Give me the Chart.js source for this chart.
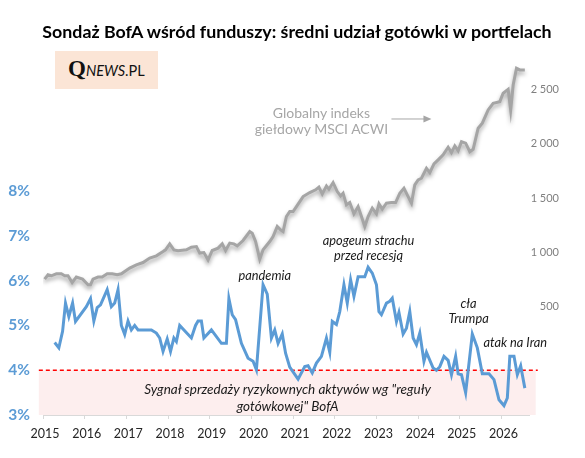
<!DOCTYPE html>
<html><head><meta charset="utf-8">
<script src="https://cdn.jsdelivr.net/npm/chart.js@4.4.1/dist/chart.umd.min.js"></script>
<style>
html,body{margin:0;padding:0;background:#fff;}
#wrap{position:relative;width:585px;height:458px;overflow:hidden;font-family:Lato,"Noto Sans",sans-serif;}
canvas{position:absolute;left:0;top:0;}
#title{position:absolute;left:0;width:594px;top:20px;text-align:center;font-weight:bold;font-size:17.8px;color:#000;white-space:nowrap;}
#logo{position:absolute;left:55px;top:51px;width:103px;height:38px;background:#FBE5D6;}
#logo span.l{position:absolute;left:13px;top:5px;white-space:nowrap;color:#111;}
.q{font-family:"Liberation Serif",serif;font-weight:bold;font-size:23px;}
.n{font-style:italic;font-size:14.5px;}
.p{font-size:14.5px;}
.ann{position:absolute;transform:translate(-50%,-50%);white-space:nowrap;text-align:center;font-style:italic;font-size:12.8px;color:#1a1a1a;line-height:15px;}
.gidx{font-style:normal;color:#a6a6a6;font-size:14px;line-height:16px;}
</style></head>
<body>
<div id="wrap">
<canvas id="c" width="585" height="458"></canvas>
<div id="title">Sondaż BofA wśród funduszy: średni udział gotówki w portfelach</div>
<div id="logo"><span class="l"><span class="q">Q</span><span class="n">NEWS</span><span class="p">.PL</span></span></div>
</div>
<script>
// ---- data ----
const cashYears = [2015.28,2015.38,2015.47,2015.54,2015.62,2015.71,2015.78,2016.04,2016.14,2016.22,2016.30,2016.38,2016.54,2016.64,2016.72,2016.80,2016.88,2016.96,2017.04,2017.12,2017.20,2017.28,2017.60,2017.72,2017.80,2017.88,2017.98,2018.06,2018.14,2018.20,2018.28,2018.56,2018.66,2018.72,2018.80,2018.86,2019.04,2019.28,2019.40,2019.46,2019.54,2019.62,2019.76,2019.92,2020.04,2020.12,2020.28,2020.38,2020.48,2020.56,2020.64,2020.74,2020.82,2020.92,2021.12,2021.28,2021.36,2021.46,2021.56,2021.68,2021.80,2021.88,2021.94,2022.04,2022.12,2022.22,2022.30,2022.38,2022.46,2022.56,2022.72,2022.80,2022.90,2023.00,2023.06,2023.12,2023.24,2023.32,2023.38,2023.48,2023.54,2023.64,2023.72,2023.80,2023.88,2023.96,2024.04,2024.14,2024.20,2024.36,2024.44,2024.52,2024.62,2024.72,2024.80,2024.90,2024.96,2025.04,2025.14,2025.30,2025.42,2025.54,2025.70,2025.82,2025.94,2026.06,2026.14,2026.20,2026.30,2026.38,2026.46,2026.56];
const cashPct = [4.62,4.50,4.87,5.50,5.20,5.50,5.09,5.42,5.60,5.10,5.40,5.46,5.80,5.42,5.50,5.80,5.00,4.80,5.10,4.90,5.00,4.90,4.90,4.83,4.72,4.42,4.70,4.42,4.72,4.64,5.00,4.72,5.00,5.10,5.10,4.72,4.90,4.60,4.60,5.60,5.24,5.13,4.60,4.27,4.20,4.01,5.91,5.70,4.72,4.90,4.60,4.81,4.38,4.07,3.80,4.08,4.10,3.94,4.16,4.31,4.72,4.40,5.09,5.02,5.31,5.91,5.50,6.02,5.65,6.09,6.09,6.30,6.17,5.91,5.31,5.24,5.50,5.54,5.61,5.09,5.29,4.81,4.94,5.31,4.72,4.57,4.83,4.20,4.40,4.05,4.00,4.08,4.31,4.22,3.90,4.31,3.92,3.90,3.50,4.81,4.50,3.92,3.92,3.79,3.34,3.21,3.38,4.31,4.31,3.90,4.10,3.60];

const acwiYears = [2015.04,2015.12,2015.20,2015.32,2015.44,2015.52,2015.60,2015.70,2015.80,2015.95,2016.08,2016.14,2016.20,2016.32,2016.42,2016.54,2016.66,2016.78,2016.88,2017.08,2017.24,2017.40,2017.56,2017.72,2017.88,2017.94,2018.04,2018.14,2018.24,2018.44,2018.56,2018.68,2018.76,2018.86,2018.96,2019.06,2019.20,2019.30,2019.38,2019.48,2019.58,2019.66,2019.80,2019.96,2020.02,2020.10,2020.20,2020.28,2020.44,2020.52,2020.62,2020.70,2020.76,2020.84,2020.92,2021.00,2021.08,2021.24,2021.40,2021.54,2021.62,2021.70,2021.80,2021.86,2021.96,2022.06,2022.14,2022.20,2022.28,2022.36,2022.46,2022.56,2022.64,2022.72,2022.80,2022.90,2023.00,2023.06,2023.14,2023.24,2023.36,2023.46,2023.56,2023.66,2023.76,2023.84,2023.92,2024.00,2024.08,2024.20,2024.28,2024.38,2024.48,2024.60,2024.72,2024.80,2024.88,2024.96,2025.04,2025.14,2025.24,2025.32,2025.44,2025.54,2025.68,2025.80,2025.96,2026.04,2026.16,2026.22,2026.28,2026.36,2026.44,2026.56];
const acwiValues = [752,792,783,801,801,783,783,721,771,752,700,700,752,771,771,801,801,792,801,854,884,905,946,967,1006,1022,1077,1022,1013,1022,1047,1052,992,997,930,1016,1038,1077,1016,1084,1077,1059,1108,1191,1176,1099,936,1022,1099,1145,1237,1206,1191,1329,1375,1375,1421,1513,1550,1575,1600,1538,1611,1581,1642,1559,1519,1544,1437,1458,1354,1421,1329,1237,1329,1406,1354,1446,1397,1452,1458,1458,1544,1590,1513,1452,1621,1667,1682,1774,1734,1814,1851,1897,1968,1918,1980,1936,2019,2005,1927,1949,2143,2189,2311,2373,2388,2465,2502,2311,2541,2695,2680,2680];

const xTickYears = [2015,2016,2017,2018,2019,2020,2021,2022,2023,2024,2025,2026];
const leftTicks = [3,4,5,6,7,8];
const rightTicks = [500,1000,1500,2000,2500];
const signalLevel = 4;

const annotations = [
  {html:'pandemia', x:2020.32, y:6.13, axis:'yL'},
  {html:'apogeum strachu<br>przed recesją', x:2022.81, y:6.72, axis:'yL'},
  {html:'cła<br>Trumpa', x:2025.21, y:5.33, axis:'yL'},
  {html:'atak na Iran', x:2026.33, y:4.64, axis:'yL'},
  {html:'Sygnał sprzedaży ryzykownych aktywów wg "reguły<br>gotówkowej" BofA', x:2020.87, y:3.38, axis:'yL', size:13.5, lh:17},
  {html:'Globalny indeks<br>giełdowy MSCI ACWI', x:2021.68, y:2208, axis:'yR', cls:'gidx'}
];

const wrap = document.getElementById('wrap');
const annEls = annotations.map(a => {
  const d = document.createElement('div');
  d.className = 'ann' + (a.cls ? ' ' + a.cls : '');
  d.innerHTML = a.html;
  if (a.size) d.style.fontSize = a.size + 'px';
  if (a.lh) d.style.lineHeight = a.lh + 'px';
  wrap.appendChild(d);
  return d;
});

const bandPlugin = {
  id: 'band',
  beforeDatasetsDraw(chart) {
    const {ctx, scales} = chart;
    const x = scales.x, y = scales.yL, r = scales.yR;
    const x0 = x.getPixelForValue(2014.9), x1 = x.getPixelForValue(2026.82);
    const yTop = y.getPixelForValue(signalLevel), yBot = y.getPixelForValue(3);
    ctx.save();
    ctx.fillStyle = '#FDEEEE';
    ctx.fillRect(x0, yTop, x1 - x0, yBot - yTop);
    ctx.strokeStyle = '#FF0000';
    ctx.lineWidth = 1.3;
    ctx.setLineDash([4, 3]);
    ctx.beginPath();
    ctx.moveTo(x0, yTop);
    ctx.lineTo(x.getPixelForValue(2026.87), yTop);
    ctx.stroke();
    ctx.setLineDash([]);
    // arrow next to the index label
    const ay = r.getPixelForValue(2228);
    const ax0 = x.getPixelForValue(2023.36), ax1 = x.getPixelForValue(2024.32);
    ctx.strokeStyle = '#a6a6a6';
    ctx.fillStyle = '#a6a6a6';
    ctx.lineWidth = 1;
    ctx.beginPath();
    ctx.moveTo(ax0, ay); ctx.lineTo(ax1 - 6, ay); ctx.stroke();
    ctx.beginPath();
    ctx.moveTo(ax1, ay); ctx.lineTo(ax1 - 8, ay - 3.5); ctx.lineTo(ax1 - 8, ay + 3.5); ctx.closePath(); ctx.fill();
    ctx.restore();
  },
  beforeDatasetDraw(chart, args) {
    if (args.index === 0) {
      const ctx = chart.ctx;
      ctx.save();
      ctx.shadowColor = 'rgba(0,0,0,0.35)';
      ctx.shadowBlur = 4;
      ctx.shadowOffsetY = 3;
    }
  },
  afterDatasetDraw(chart, args) {
    if (args.index === 0) chart.ctx.restore();
  },
  afterRender(chart) {
    annotations.forEach((a, i) => {
      const px = chart.scales.x.getPixelForValue(a.x);
      const py = chart.scales[a.axis].getPixelForValue(a.y);
      annEls[i].style.left = px + 'px';
      annEls[i].style.top = py + 'px';
    });
  }
};

const fmtThousands = v => v >= 1000 ? Math.floor(v / 1000) + ' ' + String(v % 1000).padStart(3, '0') : String(v);

new Chart(document.getElementById('c'), {
  type: 'line',
  data: {
    datasets: [
      {
        label: 'MSCI ACWI',
        data: acwiYears.map((x, i) => ({x, y: acwiValues[i]})),
        yAxisID: 'yR',
        borderColor: '#A5A5A5',
        borderWidth: 3,
        pointRadius: 0,
        tension: 0,
        fill: false
      },
      {
        label: 'Gotówka',
        data: cashYears.map((x, i) => ({x, y: cashPct[i]})),
        yAxisID: 'yL',
        borderColor: '#5B9BD5',
        borderWidth: 3,
        pointRadius: 0,
        tension: 0,
        fill: false
      }
    ]
  },
  options: {
    responsive: false,
    animation: false,
    devicePixelRatio: 1,
    layout: {padding: {left: 0, right: 26, top: 60, bottom: 0}},
    plugins: {legend: {display: false}, tooltip: {enabled: false}, title: {display: false}},
    scales: {
      x: {
        type: 'linear', position: 'bottom', min: 2015, max: 2026.66,
        afterBuildTicks: s => { s.ticks = xTickYears.map(v => ({value: v})); },
        afterFit: s => { s.height = 43; },
        grid: {display: true, drawOnChartArea: false, drawTicks: true, tickLength: 4, color: '#d9d9d9'},
        border: {display: true, color: '#d9d9d9', width: 1},
        ticks: {callback: v => String(v), color: '#262626', font: {family: 'Lato', size: 12.5}, padding: 7, autoSkip: false, maxRotation: 0, labelOffset: 2}
      },
      yL: {
        type: 'linear', position: 'left', min: 3, max: 10.93,
        afterBuildTicks: s => { s.ticks = leftTicks.map(v => ({value: v})); },
        afterFit: s => { s.width = 43; },
        grid: {display: false, drawTicks: false},
        border: {display: false},
        ticks: {callback: v => v + '%', color: '#5B9BD5', font: {family: 'Lato', size: 15.5, weight: 'bold'}, padding: 13}
      },
      yR: {
        type: 'linear', position: 'right', min: -500, max: 2771.6,
        afterBuildTicks: s => { s.ticks = rightTicks.map(v => ({value: v})); },
        afterFit: s => { s.width = 30; },
        grid: {display: false, drawTicks: false},
        border: {display: false},
        ticks: {callback: fmtThousands, color: '#7f7f7f', font: {family: 'Lato', size: 11}, crossAlign: 'far', padding: 3}
      }
    }
  },
  plugins: [bandPlugin]
});
</script>
</body></html>
